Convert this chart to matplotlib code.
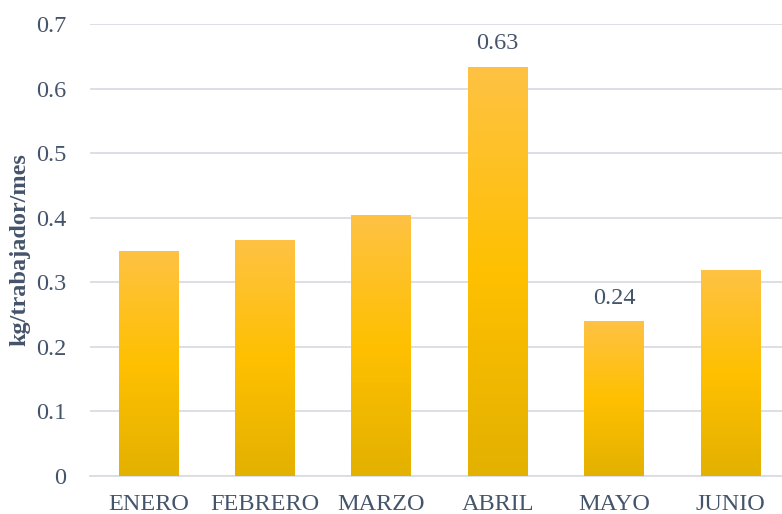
import numpy as np
import matplotlib
matplotlib.use('Agg')
import matplotlib.pyplot as plt
from matplotlib.colors import LinearSegmentedColormap

months = ['ENERO', 'FEBRERO', 'MARZO', 'ABRIL', 'MAYO', 'JUNIO']
values = [0.349, 0.365, 0.404, 0.634, 0.240, 0.319]
labelled = ['ABRIL', 'MAYO']

text_col = '#44546A'
grid_col = '#D9DDE3'

plt.rcParams['font.family'] = ['Liberation Serif', 'DejaVu Serif']

fig = plt.figure(figsize=(7.82, 5.14), dpi=100)
ax = fig.add_axes([90 / 782, (514 - 476) / 514, 692 / 782, (476 - 24) / 514])

x = np.arange(len(months))
bars = ax.bar(x, values, width=0.51, color='none', zorder=3)

# gradient fill per bar: light orange on top, gold in the middle, darker at the bottom
cmap = LinearSegmentedColormap.from_list(
    'gold', [(0.0, '#E3B100'), (0.5, '#FFC000'), (1.0, '#FEC244')])
grad = np.linspace(0, 1, 256).reshape(-1, 1)
for b in bars:
    x0, w, h = b.get_x(), b.get_width(), b.get_height()
    im = ax.imshow(grad, cmap=cmap, origin='lower', aspect='auto',
                   extent=[x0, x0 + w, 0, h], zorder=3)
    im.set_clip_path(b)

for i, m in enumerate(months):
    if m in labelled:
        ax.annotate(f'{values[i]:.2f}', (x[i], values[i]), xytext=(0, 9),
                    textcoords='offset points', ha='center', va='bottom',
                    fontsize=17.5, color=text_col)

ax.set_xlim(-0.5, 5.5 - 6.75 / 116.5)
ax.set_ylim(0, 0.7)
ax.set_yticks(np.arange(0, 0.71, 0.1))
ax.set_yticklabels(['0'] + [f'{v:.1f}' for v in np.arange(0.1, 0.71, 0.1)])
ax.set_xticks(x)
ax.set_xticklabels(months)
ax.tick_params(axis='both', length=0, labelsize=17.5, colors=text_col)
ax.tick_params(axis='y', pad=17)
ax.tick_params(axis='x', pad=13)

ax.grid(axis='y', color=grid_col, lw=1.3, zorder=0)
for s in ['top', 'right', 'left']:
    ax.spines[s].set_visible(False)
ax.spines['bottom'].set_color(grid_col)
ax.spines['bottom'].set_linewidth(1.3)

ax.set_ylabel('kg/trabajador/mes', fontsize=17.5, fontweight='bold',
              color=text_col)
ax.yaxis.set_label_coords((30 - 90) / 692, 0.5)

fig.savefig('out.png', dpi=100)
